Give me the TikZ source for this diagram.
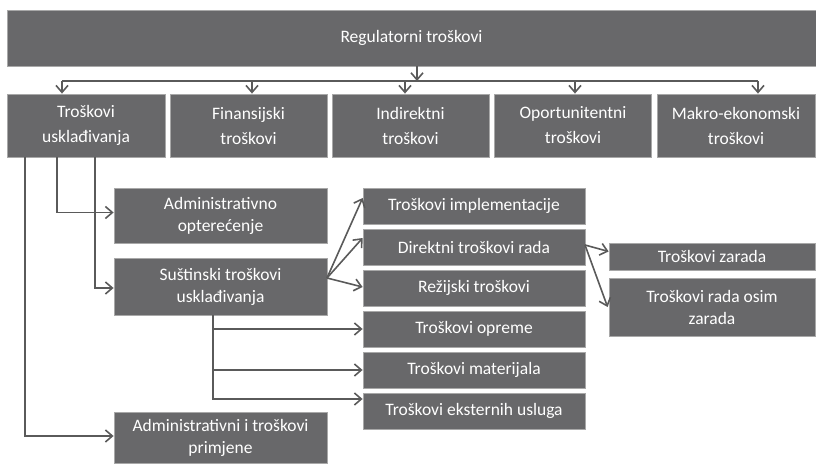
\documentclass[tikz,border=0pt]{standalone}
\usepackage{fontspec}
\setmainfont{Carlito}
\usetikzlibrary{arrows.meta}
\definecolor{boxfill}{HTML}{68686A}
\definecolor{boxedge}{HTML}{A8A8A8}
\definecolor{linecol}{HTML}{5A5A5A}
\begin{document}
\begin{tikzpicture}[x=1pt,y=-1pt,
  box/.style={draw=boxedge, line width=0.8pt, fill=boxfill, text=white, align=center,
    inner sep=0pt, font=\fontsize{17.5}{22}\selectfont},
  rowbox/.style={box, font=\fontsize{17.5}{25}\selectfont},
  arr/.style={draw=linecol, line width=1.6pt, -{Straight Barb[length=7pt,width=12pt,line width=1.6pt]}},
  ln/.style={draw=linecol, line width=1.6pt}]
\useasboundingbox (0,0) rectangle (816,465);
% top
\node[box, minimum width=809pt, minimum height=56pt] (top) at (411.5,38) {Regulatorni troškovi};
% row 2
\node[rowbox, minimum width=158pt, minimum height=63pt] (usk) at (86,125.5) {Troškovi\\usklađivanja};
\node[rowbox, minimum width=157pt, minimum height=63pt] (fin) at (248.5,125.5) {Finansijski\\troškovi};
\node[rowbox, minimum width=157pt, minimum height=63pt] (ind) at (410.5,125.5) {Indirektni\\troškovi};
\node[rowbox, minimum width=157pt, minimum height=63pt] (opo) at (573,125.5) {Oportunitentni\\troškovi};
\node[rowbox, minimum width=158pt, minimum height=63pt] (mak) at (736,125.5) {Makro-ekonomski\\troškovi};
% bus
\coordinate (tb) at (417,66);
\coordinate (bus) at (417,81);
\coordinate (b1) at (62,81);
\coordinate (b2) at (252,81);
\coordinate (b3) at (405,81);
\coordinate (b4) at (575,81);
\coordinate (b5) at (758,81);
\draw[arr] (tb) -- (bus);
\draw[ln] (b1) -- (b5);
\draw[arr] (b1) -- (b1 |- usk.north);
\draw[arr] (b2) -- (b2 |- fin.north);
\draw[arr] (b3) -- (b3 |- ind.north);
\draw[arr] (b4) -- (b4 |- opo.north);
\draw[arr] (b5) -- (b5 |- mak.north);
% level 3
\node[box, minimum width=213pt, minimum height=55pt] (adm) at (220.5,215.5) {Administrativno\\opterećenje};
\node[box, minimum width=213pt, minimum height=57pt] (sus) at (220.5,286.5) {Suštinski troškovi\\usklađivanja};
\node[box, minimum width=213pt, minimum height=51pt] (pri) at (220.5,438) {Administrativni i troškovi\\primjene};
\coordinate (u1) at (25,157);
\coordinate (u2) at (57,157);
\coordinate (u3) at (95,157);
\draw[arr] (u2) |- ([yshift=3pt]adm.west);
\draw[arr] (u3) |- ([yshift=-1.5pt]sus.west);
\draw[arr] (u1) |- ([yshift=2pt]pri.west);
% right column
\node[box, minimum width=222pt, minimum height=36pt] (imp) at (474,206) {Troškovi implementacije};
\node[box, minimum width=222pt, minimum height=36pt] (dir) at (474,247) {Direktni troškovi rada};
\node[box, minimum width=222pt, minimum height=36pt] (rez) at (474,288) {Režijski troškovi};
\node[box, minimum width=222pt, minimum height=36pt] (opr) at (474,329) {Troškovi opreme};
\node[box, minimum width=222pt, minimum height=36pt] (mat) at (474,370) {Troškovi materijala};
\node[box, minimum width=222pt, minimum height=36pt] (eks) at (474,411) {Troškovi eksternih usluga};
\coordinate (sf) at (327,278);
\draw[arr] (sf) -- ([yshift=8pt]imp.west);
\draw[arr] (sf) -- ([yshift=9pt]dir.west);
\draw[arr] (sf) -- ([yshift=1pt]rez.west);
\coordinate (sb) at (213,315);
\draw[arr] (sb) |- (opr.west);
\draw[arr] (sb) |- (mat.west);
\draw[arr] (sb) |- ([yshift=12pt]eks.west);
% far right
\node[box, minimum width=206pt, minimum height=27pt] (zar) at (712,256.5) {Troškovi zarada};
\node[box, minimum width=206pt, minimum height=58pt] (osi) at (712,307) {Troškovi rada osim\\zarada};
\coordinate (df) at (585,245);
\draw[arr] (df) -- ([yshift=5pt]zar.west);
\draw[arr] (df) -- ([xshift=-1pt]osi.west);
\end{tikzpicture}
\end{document}
